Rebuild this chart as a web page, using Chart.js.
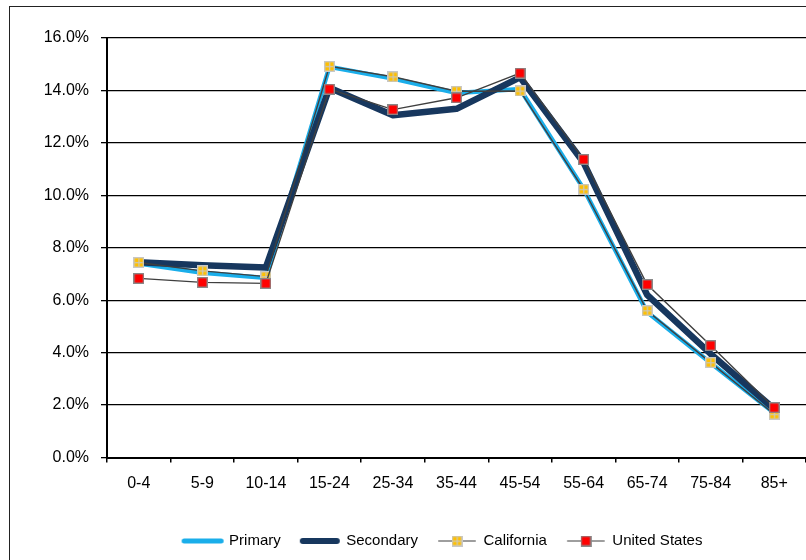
<!DOCTYPE html>
<html>
<head>
<meta charset="utf-8">
<script src="https://cdn.jsdelivr.net/npm/chart.js@4/dist/chart.umd.min.js"></script>
<style>
  html, body { margin: 0; padding: 0; background: #fff; overflow: hidden; width: 806px; height: 560px; }
  #frame { position: absolute; left: 9px; top: 6px; width: 870px; height: 600px; border: 1px solid #222; background: #fff; }
  #chart { display: block; }
</style>
</head>
<body>
<div id="frame"><canvas id="chart" width="870" height="600"></canvas></div>
<script>
// Age groups along the x axis
const categories = ['0-4', '5-9', '10-14', '15-24', '25-34', '35-44', '45-54', '55-64', '65-74', '75-84', '85+'];

// Share of population in each age group (percent)
const primary      = [7.40, 7.05, 6.85, 14.90, 14.45, 13.90, 14.05, 10.25, 5.55, 3.60, 1.70];
const secondary    = [7.45, 7.33, 7.25, 14.10, 13.05, 13.30, 14.50, 11.25, 6.20, 3.95, 1.85];
const california   = [7.44, 7.12, 6.90, 14.92, 14.52, 13.97, 13.98, 10.23, 5.60, 3.62, 1.65];
const unitedStates = [6.83, 6.68, 6.64, 14.05, 13.27, 13.72, 14.66, 11.37, 6.60, 4.27, 1.90];

// Y axis range and step (percent)
const yMin = 0, yMax = 16, yStep = 2;

const seriesNames = ['Primary', 'Secondary', 'California', 'United States'];

const COLORS = {
  primary: '#1AAEEA',
  secondary: '#17375E',
  thin: '#3F3F3F',
  yellow: '#FFC000',
  red: '#FF0000'
};

// Square marker drawn into a small canvas, used as point style
function makeMarker(fill, border, cross) {
  const c = document.createElement('canvas');
  c.width = 11; c.height = 11;
  const g = c.getContext('2d');
  g.fillStyle = fill;
  g.fillRect(0.5, 0.5, 10, 10);
  if (cross) {
    g.fillStyle = 'rgba(200,200,200,0.85)';
    g.fillRect(5, 1.5, 1.4, 8);
    g.fillRect(1.5, 5, 8, 1.4);
  }
  g.strokeStyle = border;
  g.lineWidth = 1.4;
  g.strokeRect(0.7, 0.7, 9.6, 9.6);
  return c;
}

// Legend symbol: a line segment, optionally with a marker in the middle
function makeLegendSymbol(color, width, len, marker) {
  const c = document.createElement('canvas');
  c.width = 44; c.height = 12;
  const g = c.getContext('2d');
  g.strokeStyle = color;
  g.lineWidth = width;
  g.lineCap = 'round';
  const x0 = (44 - len) / 2 + width / 2, x1 = (44 + len) / 2 - width / 2;
  g.beginPath();
  g.moveTo(x0, 6); g.lineTo(x1, 6);
  g.stroke();
  if (marker) g.drawImage(marker, (44 - marker.width) / 2, (12 - marker.height) / 2);
  return c;
}

const yellowMarker = makeMarker(COLORS.yellow, '#C8C8C8', true);
const redMarker = makeMarker(COLORS.red, '#8A8A8A', false);

const legendSymbols = [
  makeLegendSymbol(COLORS.primary, 5, 42, null),
  makeLegendSymbol(COLORS.secondary, 6, 40, null),
  makeLegendSymbol('#7F7F7F', 1.5, 38, yellowMarker),
  makeLegendSymbol('#7F7F7F', 1.5, 38, redMarker)
];

// The legend sits centred under the whole chart frame, which is wider than the plot
const legendShift = {
  id: 'legendShift',
  afterLayout(chart) {
    const lg = chart.legend;
    if (lg) { lg.left += 30; lg.right += 30; }
  }
};

Chart.defaults.font.family = '"Liberation Sans", Arial, sans-serif';
Chart.defaults.font.size = 15;
Chart.defaults.color = '#000';

const data = {
  labels: categories,
  datasets: [
    { label: seriesNames[0], data: primary, borderColor: COLORS.primary, borderWidth: 4.5,
      pointRadius: 0, tension: 0, order: 3 },
    { label: seriesNames[1], data: secondary, borderColor: COLORS.secondary, borderWidth: 6.5,
      pointRadius: 0, tension: 0, order: 2, borderJoinStyle: 'round' },
    { label: seriesNames[2], data: california, borderColor: COLORS.thin, borderWidth: 1.4,
      pointStyle: yellowMarker, pointRadius: 6, tension: 0, order: 1 },
    { label: seriesNames[3], data: unitedStates, borderColor: COLORS.thin, borderWidth: 1.4,
      pointStyle: redMarker, pointRadius: 6, tension: 0, order: 0 }
  ]
};

new Chart(document.getElementById('chart'), {
  type: 'line',
  data: data,
  plugins: [legendShift],
  options: {
    responsive: false,
    animation: false,
    events: [],
    devicePixelRatio: 1,
    layout: { padding: { top: 31, left: 10, right: 74, bottom: 48.5 } },
    plugins: {
      title: { display: false },
      tooltip: { enabled: false },
      legend: {
        position: 'bottom',
        align: 'center',
        labels: {
          usePointStyle: true,
          pointStyleWidth: 38,
          padding: 20,
          color: '#000',
          font: { size: 15 },
          sort: (a, b) => a.datasetIndex - b.datasetIndex,
          generateLabels(chart) {
            const items = Chart.defaults.plugins.legend.labels.generateLabels(chart);
            items.forEach((it) => { it.pointStyle = legendSymbols[it.datasetIndex]; });
            return items;
          }
        }
      }
    },
    scales: {
      x: {
        type: 'category',
        offset: true,
        afterFit(scale) { scale.height = 56; },
        grid: { display: true, drawOnChartArea: false, drawTicks: true, tickLength: 5,
                offset: true, color: '#000', lineWidth: 1.5 },
        border: { display: true, color: '#000', width: 2 },
        ticks: { padding: 11, color: '#000', font: { size: 16 }, maxRotation: 0, autoSkip: false }
      },
      y: {
        min: yMin,
        max: yMax,
        afterFit(scale) { scale.width = 87; },
        grid: { color: '#000', lineWidth: 1.3, drawTicks: true, tickLength: 6 },
        border: { display: true, color: '#000', width: 2 },
        ticks: {
          stepSize: yStep,
          padding: 12,
          color: '#000',
          font: { size: 16 },
          callback: (v) => Number(v).toFixed(1) + '%'
        }
      }
    }
  }
});
</script>
</body>
</html>
